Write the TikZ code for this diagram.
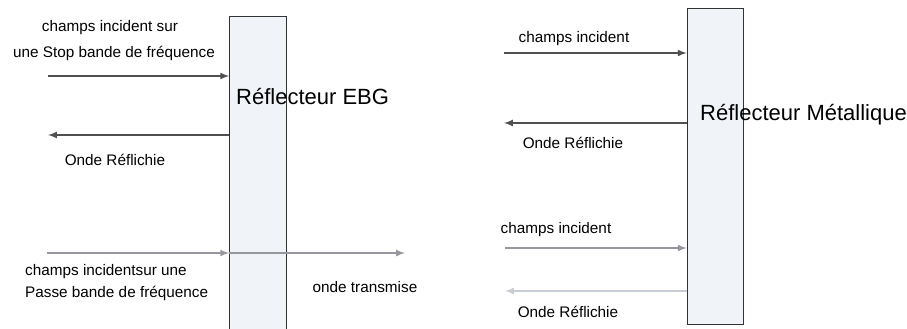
\documentclass[tikz,border=0pt]{standalone}
\usepackage{fontspec}
\setmainfont{Liberation Sans}
\usepackage{xcolor}
\usetikzlibrary{arrows}

\definecolor{boxfill}{RGB}{240,243,247}
\definecolor{darkray}{RGB}{80,80,82}
\definecolor{grayray}{RGB}{150,152,158}
\definecolor{paleray}{RGB}{200,204,212}

\tikzset{
  reflbox/.style={draw=black!80, thick, fill=boxfill, inner sep=0pt},
  ray/.style={-latex, line width=2pt},
  lbl/.style={inner sep=0pt, font=\fontsize{15.3}{17}\selectfont},
  big/.style={inner sep=0pt, font=\fontsize{22}{24}\selectfont}
}

\begin{document}
\begin{tikzpicture}[x=1pt,y=-1pt]
\useasboundingbox (0,0) rectangle (907,329);

\node[reflbox, minimum width=57pt, minimum height=320pt] (ebg) at (258,176) {};
\node[reflbox, minimum width=56pt, minimum height=316pt] (metal) at (715,166) {};

\coordinate (in1) at (48,76);
\coordinate (out1) at (48,135);
\coordinate (in2) at (47,253);
\coordinate (trans) at (405,253);
\draw[ray, darkray] (in1) -- (in1 -| ebg.west);
\draw[ray, darkray] (out1 -| ebg.west) -- (out1);
\draw[ray, grayray] (in2) -- (in2 -| ebg.west);
\draw[ray, grayray] (in2 -| ebg.west) -- (trans);

\node[lbl] (tin1) at (110,28) {champs incident sur};
\node[lbl] (tin1b) at (114,53) {une Stop bande de fréquence};
\node[big, anchor=west] (tebg) at (236,97) {Réflecteur EBG};
\node[lbl] (tout1) at (115,160) {Onde Réflichie};
\node[lbl, anchor=west] (tin2) at (25,272) {champs incidentsur une};
\node[lbl, anchor=west] (tin2b) at (25,293) {Passe bande de fréquence};
\node[lbl] (ttrans) at (365,287) {onde transmise};

\coordinate (in3) at (504,53);
\coordinate (out3) at (504,123);
\coordinate (in4) at (505,248);
\coordinate (out4) at (505,291);
\draw[ray, darkray] (in3) -- (in3 -| metal.west);
\draw[ray, darkray] (out3 -| metal.west) -- (out3);
\draw[ray, grayray] (in4) -- (in4 -| metal.west);
\draw[ray, paleray] (out4 -| metal.west) -- (out4);

\node[lbl] (tin3) at (574,39) {champs incident};
\node[big, anchor=west] (tmetal) at (700,115) {Réflecteur Métallique};
\node[lbl] (tout3) at (573,143) {Onde Réflichie};
\node[lbl] (tin4) at (556,230) {champs incident};
\node[lbl] (tout4) at (568,312) {Onde Réflichie};
\end{tikzpicture}
\end{document}
